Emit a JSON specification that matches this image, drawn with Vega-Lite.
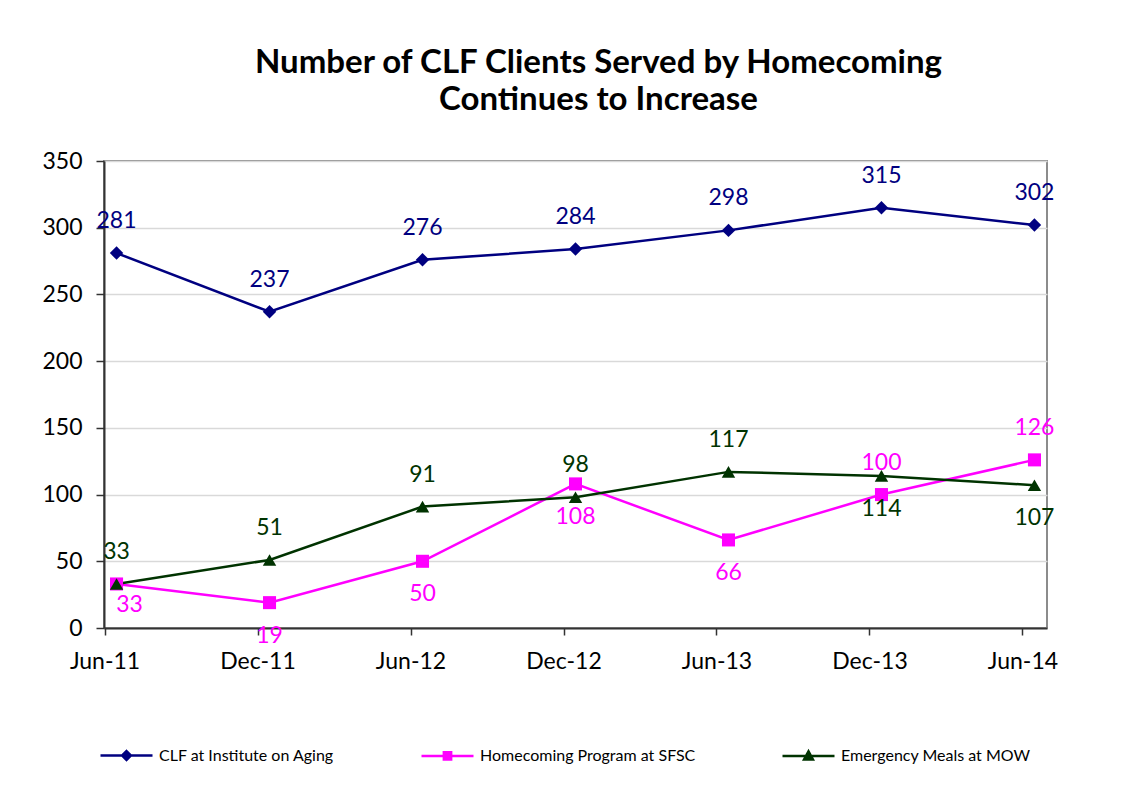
{
  "$schema": "https://vega.github.io/schema/vega-lite/v6.json",
  "width": 943,
  "height": 467,
  "autosize": {"type": "none"},
  "padding": {"left": 104, "top": 161, "right": 96, "bottom": 178},
  "background": "white",
  "config": {
    "view": {"stroke": "#8c8c8c", "strokeWidth": 2},
    "font": "Lato"
  },
  "title": {
    "text": ["Number of CLF Clients Served by Homecoming", "Continues to Increase"],
    "anchor": "middle",
    "frame": "group",
    "font": "Lato",
    "fontSize": 33,
    "fontWeight": "bold",
    "color": "black",
    "lineHeight": 37,
    "offset": 33,
    "dx": 23
  },
  "data": {
    "values": [
      {"period": "Jun-11", "series": "CLF at Institute on Aging", "value": 281},
      {"period": "Dec-11", "series": "CLF at Institute on Aging", "value": 237},
      {"period": "Jun-12", "series": "CLF at Institute on Aging", "value": 276},
      {"period": "Dec-12", "series": "CLF at Institute on Aging", "value": 284},
      {"period": "Jun-13", "series": "CLF at Institute on Aging", "value": 298},
      {"period": "Dec-13", "series": "CLF at Institute on Aging", "value": 315},
      {"period": "Jun-14", "series": "CLF at Institute on Aging", "value": 302},
      {"period": "Jun-11", "series": "Homecoming Program at SFSC", "value": 33},
      {"period": "Dec-11", "series": "Homecoming Program at SFSC", "value": 19},
      {"period": "Jun-12", "series": "Homecoming Program at SFSC", "value": 50},
      {"period": "Dec-12", "series": "Homecoming Program at SFSC", "value": 108},
      {"period": "Jun-13", "series": "Homecoming Program at SFSC", "value": 66},
      {"period": "Dec-13", "series": "Homecoming Program at SFSC", "value": 100},
      {"period": "Jun-14", "series": "Homecoming Program at SFSC", "value": 126},
      {"period": "Jun-11", "series": "Emergency Meals at MOW", "value": 33},
      {"period": "Dec-11", "series": "Emergency Meals at MOW", "value": 51},
      {"period": "Jun-12", "series": "Emergency Meals at MOW", "value": 91},
      {"period": "Dec-12", "series": "Emergency Meals at MOW", "value": 98},
      {"period": "Jun-13", "series": "Emergency Meals at MOW", "value": 117},
      {"period": "Dec-13", "series": "Emergency Meals at MOW", "value": 114},
      {"period": "Jun-14", "series": "Emergency Meals at MOW", "value": 107}
    ]
  },
  "encoding": {
    "x": {
      "field": "period",
      "type": "ordinal",
      "sort": ["Jun-11", "Dec-11", "Jun-12", "Dec-12", "Jun-13", "Dec-13", "Jun-14"],
      "scale": {"type": "point", "padding": 0.082},
      "axis": {
        "title": null,
        "labelAngle": 0,
        "labelFont": "Lato",
        "labelFontSize": 23,
        "labelColor": "black",
        "labelPadding": 15,
        "domainColor": "#333333",
        "domainWidth": 2,
        "tickColor": "#333333",
        "tickWidth": 1.5,
        "tickSize": 7,
        "tickOffset": -12,
        "grid": false
      }
    },
    "y": {
      "field": "value",
      "type": "quantitative",
      "scale": {"domain": [0, 350], "nice": false},
      "axis": {
        "title": null,
        "values": [0, 50, 100, 150, 200, 250, 300, 350],
        "labelFont": "Lato",
        "labelFontSize": 23,
        "labelColor": "black",
        "labelPadding": 14,
        "domainColor": "#333333",
        "domainWidth": 2,
        "tickColor": "#333333",
        "tickWidth": 1.5,
        "tickSize": 8,
        "grid": true,
        "gridColor": "#d9d9d9",
        "gridWidth": 1.5
      }
    },
    "color": {
      "field": "series",
      "type": "nominal",
      "scale": {
        "domain": ["CLF at Institute on Aging", "Homecoming Program at SFSC", "Emergency Meals at MOW"],
        "range": ["#000080", "#ff00ff", "#003300"]
      }
    }
  },
  "layer": [
    {
      "mark": {"type": "line", "strokeWidth": 2.5},
      "encoding": {
        "color": {
          "field": "series",
          "type": "nominal",
          "sort": ["CLF at Institute on Aging", "Homecoming Program at SFSC", "Emergency Meals at MOW"],
          "scale": {
            "domain": ["CLF at Institute on Aging", "Homecoming Program at SFSC", "Emergency Meals at MOW"],
            "range": ["#000080", "#ff00ff", "#003300"]
          },
          "legend": {
            "orient": "none",
            "legendX": -5,
            "legendY": 567,
            "direction": "horizontal",
            "title": null,
            "padding": 0,
            "labelFont": "Lato",
            "labelFontSize": 16,
            "labelColor": "black",
            "labelOffset": 5,
            "labelLimit": 400,
            "columnPadding": 81,
            "symbolSize": 2704,
            "symbolStrokeWidth": 2.5,
            "encode": {
              "symbols": {
                "update": {
                  "shape": {"signal": "datum.value === 'CLF at Institute on Aging' ? 'M-1,0H1M0,-0.17L0.17,0L0,0.17L-0.17,0Z' : (datum.value === 'Homecoming Program at SFSC' ? 'M-1,0H1M-0.14,-0.14H0.14V0.14H-0.14Z' : 'M-1,0H1M0,-0.18L0.17,0.13L-0.17,0.13Z')"},
                  "fill": {"signal": "scale('color', datum.value)"},
                  "stroke": {"signal": "scale('color', datum.value)"},
                  "opacity": {"value": 1}
                }
              }
            }
          }
        }
      }
    },
    {
      "transform": [{"filter": "datum.series === 'CLF at Institute on Aging'"}],
      "mark": {"type": "point", "filled": true, "size": 180, "opacity": 1, "shape": "diamond"}
    },
    {
      "transform": [{"filter": "datum.series === 'Homecoming Program at SFSC'"}],
      "mark": {"type": "point", "filled": true, "size": 170, "opacity": 1, "shape": "square"}
    },
    {
      "transform": [{"filter": "datum.series === 'Emergency Meals at MOW'"}],
      "mark": {"type": "point", "filled": true, "size": 180, "opacity": 1, "shape": "triangle-up"}
    },
    {
      "transform": [
        {"filter": "!((datum.series === 'Homecoming Program at SFSC' && datum.period !== 'Dec-13' && datum.period !== 'Jun-14') || (datum.series === 'Emergency Meals at MOW' && (datum.period === 'Dec-13' || datum.period === 'Jun-14')))"}
      ],
      "mark": {"type": "text", "fontSize": 23, "font": "Lato", "dy": -32, "baseline": "middle"},
      "encoding": {
        "text": {"field": "value", "type": "quantitative"}
      }
    },
    {
      "transform": [
        {"filter": "(datum.series === 'Homecoming Program at SFSC' && datum.period !== 'Dec-13' && datum.period !== 'Jun-14' && datum.period !== 'Jun-11') || (datum.series === 'Emergency Meals at MOW' && (datum.period === 'Dec-13' || datum.period === 'Jun-14'))"}
      ],
      "mark": {"type": "text", "fontSize": 23, "font": "Lato", "dy": 33, "baseline": "middle"},
      "encoding": {
        "text": {"field": "value", "type": "quantitative"}
      }
    },
    {
      "transform": [
        {"filter": "datum.series === 'Homecoming Program at SFSC' && datum.period === 'Jun-11'"}
      ],
      "mark": {"type": "text", "fontSize": 23, "font": "Lato", "dy": 21, "dx": 13, "baseline": "middle"},
      "encoding": {
        "text": {"field": "value", "type": "quantitative"}
      }
    }
  ]
}
